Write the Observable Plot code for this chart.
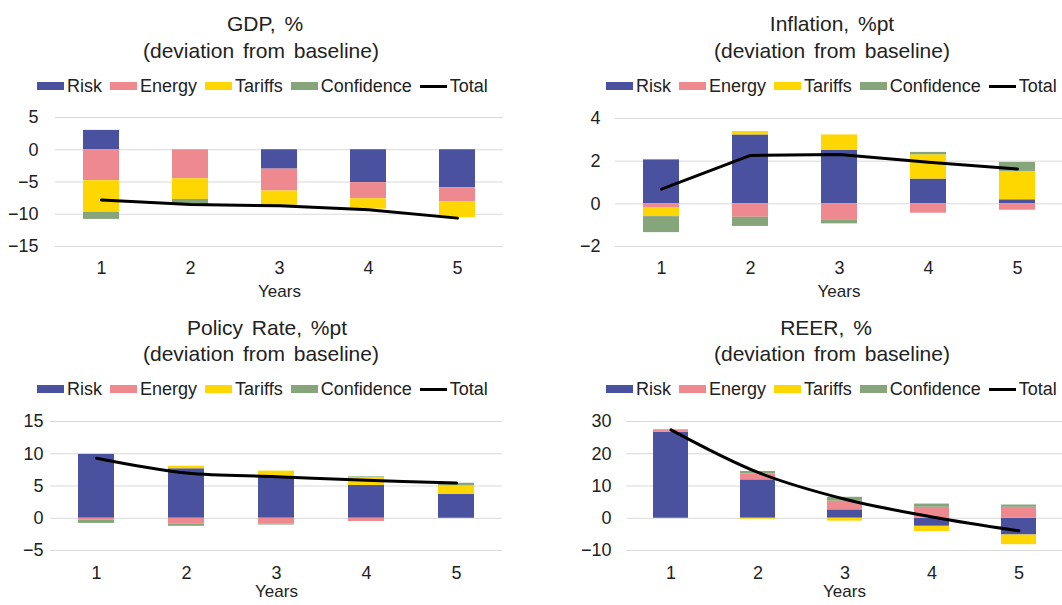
<!DOCTYPE html>
<html><head><meta charset="utf-8">
<script src="https://cdn.jsdelivr.net/npm/d3@7"></script>
<script src="https://cdn.jsdelivr.net/npm/@observablehq/plot@0.6"></script>
<style>
body{margin:0;background:#fff;font-family:"Liberation Sans",Arial,sans-serif;}
#root{position:relative;width:1062px;height:605px;overflow:hidden;background:#fff;}
.t{position:absolute;text-align:center;color:#222;font-size:21px;line-height:24px;white-space:nowrap;word-spacing:3px;}
.leg{position:absolute;display:flex;align-items:center;font-size:18px;line-height:20px;color:#222;white-space:nowrap;}
.leg .it{display:flex;align-items:center;margin-right:8px;}
.leg .sw{width:27px;height:8px;margin-right:3px;}
.leg .ln{width:27px;height:3px;background:#000;margin-right:3px;}
.pl{position:absolute;}
</style>
</head><body><div id="root"></div>
<script>
const years = [1, 2, 3, 4, 5];
const seriesNames = ["Risk", "Energy", "Tariffs", "Confidence"];
const seriesColors = ["#4A52A0", "#EE8A8F", "#FFD700", "#86A57B"];

// GDP, %
const gdpRisk = [3.0, 0, -3.0, -5.1, -5.9];
const gdpEnergy = [-4.8, -4.5, -3.4, -2.5, -2.2];
const gdpTariffs = [-4.9, -3.2, -2.2, -1.6, -2.4];
const gdpConfidence = [-1.1, -0.8, -0.1, 0, 0];
const gdpTotal = [-7.8, -8.5, -8.7, -9.3, -10.6];
const gdpTicks = [-15, -10, -5, 0, 5];

// Inflation, %pt
const infRisk = [2.06, 3.23, 2.5, 1.16, 0.19];
const infEnergy = [-0.2, -0.63, -0.75, -0.44, -0.3];
const infTariffs = [-0.4, 0.16, 0.73, 1.14, 1.33];
const infConfidence = [-0.75, -0.43, -0.19, 0.11, 0.42];
const infTotal = [0.69, 2.27, 2.31, 1.95, 1.63];
const infTicks = [-2, 0, 2, 4];

// Policy Rate, %pt
const polRisk = [9.9, 7.67, 6.48, 5.08, 3.68];
const polEnergy = [-0.3, -0.9, -0.9, -0.5, 0];
const polTariffs = [0, 0.4, 0.83, 1.24, 1.35];
const polConfidence = [-0.5, -0.35, -0.15, 0.1, 0.4];
const polTotal = [9.3, 7.0, 6.45, 5.88, 5.45];
const polTicks = [-5, 0, 5, 10, 15];

// REER, %
const reerRisk = [26.7, 11.9, 2.6, -2.5, -5.2];
const reerEnergy = [0.5, 1.8, 2.7, 3.4, 3.4];
const reerTariffs = [0, -0.3, -0.9, -1.6, -3.0];
const reerConfidence = [0.2, 0.8, 1.2, 1.0, 0.7];
const reerTotal = [27.4, 14.2, 5.9, 0.4, -3.9];
const reerTicks = [-10, 0, 10, 20, 30];

const root = document.getElementById("root");

function addDiv(cls, style, html) {
  const d = document.createElement("div");
  d.className = cls;
  Object.assign(d.style, style);
  if (html != null) d.innerHTML = html;
  root.appendChild(d);
  return d;
}

function legend(left, top) {
  const d = addDiv("leg", {left: left + "px", top: top + "px"});
  seriesNames.forEach((s, i) => {
    d.insertAdjacentHTML("beforeend", `<div class="it"><div class="sw" style="background:${seriesColors[i]}"></div>${s}</div>`);
  });
  d.insertAdjacentHTML("beforeend", `<div class="it"><div class="ln"></div>Total</div>`);
}

function panel(cfg) {
  const rows = [];
  seriesNames.forEach((s, i) => {
    years.forEach((yr, j) => rows.push({year: yr, series: s, value: cfg.series[i][j]}));
  });
  const totalRows = years.map((yr, j) => ({year: yr, value: cfg.total[j]}));
  const chart = Plot.plot({
    width: cfg.width, height: cfg.height,
    marginTop: cfg.mt, marginBottom: cfg.mb, marginLeft: cfg.ml, marginRight: cfg.mr,
    style: {fontFamily: "'Liberation Sans', Arial, sans-serif", fontSize: "18px", color: "#222", background: "transparent", overflow: "visible"},
    x: {type: "band", domain: years, paddingInner: 0.6, paddingOuter: 0.3, axis: null},
    y: {domain: [cfg.ticks[0], cfg.ticks[cfg.ticks.length - 1]], axis: null},
    color: {domain: seriesNames, range: seriesColors},
    marks: [
      Plot.gridY(cfg.ticks, {stroke: "#d9d9d9", strokeOpacity: 1, strokeWidth: 1}),
      Plot.barY(rows, Plot.stackY({x: "year", y: "value", fill: "series", order: null})),
      Plot.line(totalRows, {x: "year", y: "value", stroke: "#000", strokeWidth: 3, curve: cfg.curve}),
      Plot.axisX({tickSize: 0, tickPadding: cfg.xpad, label: null, fontSize: 18}),
      Plot.axisY(cfg.ticks, {tickSize: 0, tickPadding: cfg.ypad, label: null, fontSize: 18}),
      Plot.text(["Years"], {frameAnchor: "bottom", dy: cfg.yearsDy, fontSize: 17, fill: "#222"})
    ]
  });
  chart.classList.add("pl");
  chart.style.left = cfg.left + "px";
  chart.style.top = cfg.top + "px";
  root.appendChild(chart);
}

// Titles
addDiv("t", {left: "0px", width: "530px", top: "12px"}, "GDP, %");
addDiv("t", {left: "0px", width: "522px", top: "39px"}, "(deviation from baseline)");
addDiv("t", {left: "632px", width: "400px", top: "12px"}, "Inflation, %pt");
addDiv("t", {left: "632px", width: "400px", top: "39px"}, "(deviation from baseline)");
addDiv("t", {left: "0px", width: "534px", top: "316px"}, "Policy Rate, %pt");
addDiv("t", {left: "0px", width: "522px", top: "342px"}, "(deviation from baseline)");
addDiv("t", {left: "626px", width: "400px", top: "316px"}, "REER, %");
addDiv("t", {left: "632px", width: "400px", top: "342px"}, "(deviation from baseline)");

legend(37, 76);
legend(606, 76);
legend(37, 379);
legend(606, 379);

panel({left: 0, top: 100, width: 531, height: 210, mt: 17, mb: 64, ml: 55, mr: 28,
  ticks: gdpTicks, series: [gdpRisk, gdpEnergy, gdpTariffs, gdpConfidence], total: gdpTotal,
  curve: "linear", xpad: 15, ypad: 17, yearsDy: 50});
panel({left: 531, top: 100, width: 531, height: 210, mt: 18, mb: 64, ml: 84, mr: 0,
  ticks: infTicks, series: [infRisk, infEnergy, infTariffs, infConfidence], total: infTotal,
  curve: "linear", xpad: 15, ypad: 15, yearsDy: 50});
panel({left: 0, top: 405, width: 531, height: 200, mt: 16, mb: 55, ml: 50, mr: 29,
  ticks: polTicks, series: [polRisk, polEnergy, polTariffs, polConfidence], total: polTotal,
  curve: "catmull-rom", xpad: 16, ypad: 7, yearsDy: 46});
panel({left: 531, top: 405, width: 531, height: 200, mt: 16, mb: 55, ml: 95, mr: 0,
  ticks: reerTicks, series: [reerRisk, reerEnergy, reerTariffs, reerConfidence], total: reerTotal,
  curve: "catmull-rom", xpad: 16, ypad: 15, yearsDy: 46});
</script>
</body></html>
